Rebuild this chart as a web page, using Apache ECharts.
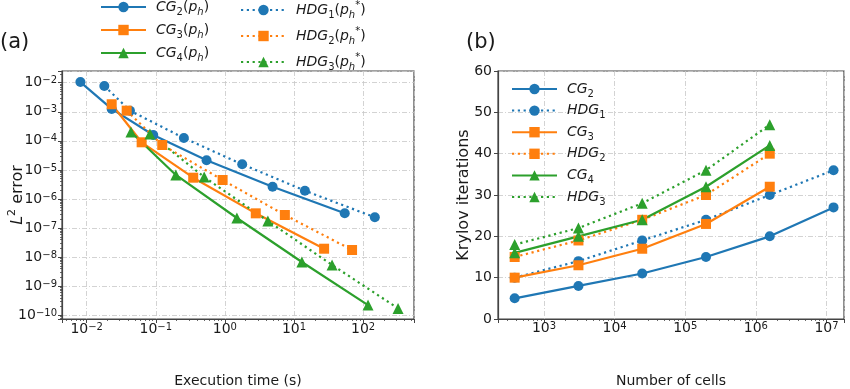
<!DOCTYPE html>
<html><head><meta charset="utf-8">
<script src="https://cdn.jsdelivr.net/npm/echarts@6/dist/echarts.min.js"></script>
<style>html,body{margin:0;padding:0;background:#fff}#c{width:850px;height:389px}</style>
</head><body><div id="c"></div>
<script>
// ---------- Panel (a): L2 error vs execution time ----------
const cg2Time  = [0.00811, 0.0230, 0.0918, 0.543, 4.90, 54.3];
const cg2Err   = [1.05e-2, 1.25e-3, 1.59e-4, 2.14e-5, 2.64e-6, 3.21e-7];
const hdg1Time = [0.0180, 0.0423, 0.255, 1.78, 14.4, 148];
const hdg1Err  = [7.7e-3, 1.09e-3, 1.25e-4, 1.56e-5, 1.93e-6, 2.34e-7];
const cg3Time  = [0.0230, 0.0624, 0.348, 2.80, 27.3];
const cg3Err   = [1.81e-3, 8.9e-5, 5.4e-6, 3.21e-7, 1.95e-8];
const hdg2Time = [0.0379, 0.124, 0.927, 7.38, 69.3];
const hdg2Err  = [1.09e-3, 7.2e-5, 4.5e-6, 2.81e-7, 1.76e-8];
const cg4Time  = [0.0437, 0.195, 1.49, 13.0, 118];
const cg4Err   = [2.01e-4, 6.7e-6, 2.22e-7, 6.8e-9, 2.25e-10];
const hdg3Time = [0.0822, 0.502, 4.19, 35.6, 321];
const hdg3Err  = [1.72e-4, 5.7e-6, 1.75e-7, 5.4e-9, 1.73e-10];

// ---------- Panel (b): Krylov iterations vs number of cells ----------
const cells    = [384, 3072, 24576, 196608, 1572864, 12582912];
const cg2Iter  = [5, 8, 11, 15, 20, 27];
const hdg1Iter = [10, 14, 19, 24, 30, 36];
const cg3Iter  = [10, 13, 17, 23, 32];
const hdg2Iter = [15, 19, 24, 30, 40];
const cg4Iter  = [16, 20, 24, 32, 42];
const hdg3Iter = [18, 22, 28, 36, 47];

const namesA = ['CG2(ph)', 'CG3(ph)', 'CG4(ph)', 'HDG1(ph*)', 'HDG2(ph*)', 'HDG3(ph*)'];
const namesB = ['CG2', 'HDG1', 'CG3', 'HDG2', 'CG4', 'HDG3'];

const BLUE = '#1f77b4', ORANGE = '#ff7f0e', GREEN = '#2ca02c';
const FONT = 'DejaVu Sans';
const TXT = '#1a1a1a';
const DOT = [2.2, 3.6];

const zip = (xs, ys) => xs.map((x, i) => [x, ys[i]]);

const richMath = {
  i:   {fontFamily: FONT, fontStyle: 'italic', fontSize: 14, lineHeight: 20, color: TXT},
  n:   {fontFamily: FONT, fontSize: 14, lineHeight: 20, color: TXT},
  sb:  {fontFamily: FONT, fontSize: 10, lineHeight: 12, verticalAlign: 'bottom', color: TXT},
  sbi: {fontFamily: FONT, fontStyle: 'italic', fontSize: 10, lineHeight: 12, verticalAlign: 'bottom', color: TXT},
  sp:  {fontFamily: FONT, fontSize: 10, lineHeight: 12, verticalAlign: 'top', color: TXT}
};
const richTitle = {
  i:  {fontFamily: FONT, fontStyle: 'italic', fontSize: 16, lineHeight: 22, color: TXT},
  n:  {fontFamily: FONT, fontSize: 16, lineHeight: 22, color: TXT},
  sp: {fontFamily: FONT, fontSize: 11, lineHeight: 13, verticalAlign: 'top', color: TXT}
};
const labelMath = {
  'CG2(ph)':  '{i|CG}{sb|2}{n|(}{i|p}{sbi|h}{n|)}',
  'CG3(ph)':  '{i|CG}{sb|3}{n|(}{i|p}{sbi|h}{n|)}',
  'CG4(ph)':  '{i|CG}{sb|4}{n|(}{i|p}{sbi|h}{n|)}',
  'HDG1(ph*)': '{i|HDG}{sb|1}{n|(}{i|p}{sbi|h}{sp|*}{n|)}',
  'HDG2(ph*)': '{i|HDG}{sb|2}{n|(}{i|p}{sbi|h}{sp|*}{n|)}',
  'HDG3(ph*)': '{i|HDG}{sb|3}{n|(}{i|p}{sbi|h}{sp|*}{n|)}',
  'CG2': '{i|CG}{sb|2}', 'CG3': '{i|CG}{sb|3}', 'CG4': '{i|CG}{sb|4}',
  'HDG1': '{i|HDG}{sb|1}', 'HDG2': '{i|HDG}{sb|2}', 'HDG3': '{i|HDG}{sb|3}'
};

function powLabel(v) {
  const e = Math.log10(v);
  const r = Math.round(e);
  if (Math.abs(e - r) > 1e-6) return '';
  const s = r < 0 ? '\u2212' + (-r) : String(r);
  return '{b|10}{s|' + s + '}';
}
// negative exponents: superscript sits high above the base
const powRichA = {
  b: {fontFamily: FONT, fontSize: 14, lineHeight: 14, padding: [8, 0, 0, 0], verticalAlign: 'bottom', color: TXT},
  s: {fontFamily: FONT, fontSize: 10, lineHeight: 12, verticalAlign: 'top', color: TXT}
};
const powRichB = {
  b: {fontFamily: FONT, fontSize: 14, lineHeight: 14, padding: [4, 0, 0, 0], verticalAlign: 'bottom', color: TXT},
  s: {fontFamily: FONT, fontSize: 10, lineHeight: 12, verticalAlign: 'top', color: TXT}
};

const SPINE = '#444';
const gridLine = {show: true, lineStyle: {color: '#c8c8c8', width: 0.8, type: [5, 2, 1, 2]}};

function logAxis(extra, rich, margin) {
  return Object.assign({
    type: 'log', logBase: 10, nameMoveOverlap: false,
    axisLine: {show: true, onZero: false, lineStyle: {color: SPINE, width: 1.2}},
    axisTick: {show: true, length: 4, inside: false, lineStyle: {color: SPINE, width: 1}},
    minorTick: {show: true, splitNumber: 9, length: 2, lineStyle: {color: SPINE, width: 0.8}},
    splitLine: gridLine,
    axisLabel: {formatter: powLabel, rich: rich, margin: margin}
  }, extra);
}

function ser(name, xs, ys, color, symbol, dotted, xi, yi) {
  return {
    name, type: 'line', xAxisIndex: xi, yAxisIndex: yi,
    data: zip(xs, ys),
    symbol, symbolSize: symbol === 'triangle' ? 11 : 10,
    showSymbol: true,
    lineStyle: {color, width: 2.2, type: dotted ? DOT : 'solid', cap: 'butt'},
    itemStyle: {color, borderWidth: 0},
    emphasis: {disabled: true},
    animation: false
  };
}

const legendBase = {
  orient: 'vertical', itemWidth: 45, itemHeight: 13, padding: 0,
  formatter: n => labelMath[n],
  textStyle: {rich: richMath, padding: [0, 0, 0, 5]},
  selectedMode: false
};

const gridBase = {show: true, borderColor: SPINE, borderWidth: 1.2, backgroundColor: 'transparent',
  containLabel: false, outerBoundsMode: 'none'};

const option = {
  animation: false,
  backgroundColor: '#fff',
  textStyle: {fontFamily: FONT, color: TXT},
  title: [
    {text: '(a)', left: 0, top: 32, padding: 0, textStyle: {fontFamily: FONT, fontSize: 21, fontWeight: 'normal', color: TXT}},
    {text: '(b)', left: 466, top: 32, padding: 0, textStyle: {fontFamily: FONT, fontSize: 21, fontWeight: 'normal', color: TXT}}
  ],
  legend: [
    Object.assign({}, legendBase, {data: namesA.slice(0, 3), left: 100, top: 0, itemGap: 6}),
    Object.assign({}, legendBase, {data: namesA.slice(3), left: 240, top: 0, itemGap: 6}),
    Object.assign({}, legendBase, {data: namesB, left: 511, top: 82, itemGap: 4.6})
  ],
  grid: [
    Object.assign({left: 62, top: 71, width: 352, height: 248}, gridBase),
    Object.assign({left: 498, top: 71, width: 346, height: 248}, gridBase)
  ],
  xAxis: [
    logAxis({gridIndex: 0, min: 4.39e-3, max: 546, splitNumber: 5,
      name: 'Execution time (s)', nameLocation: 'middle', nameGap: 55,
      nameTextStyle: {fontFamily: FONT, fontSize: 14, color: TXT}}, powRichA, 3),
    logAxis({gridIndex: 1, min: 223, max: 1.77e7, splitNumber: 5,
      name: 'Number of cells', nameLocation: 'middle', nameGap: 55,
      nameTextStyle: {fontFamily: FONT, fontSize: 14, color: TXT}}, powRichB, 2)
  ],
  yAxis: [
    logAxis({gridIndex: 0, min: 7.46e-11, max: 0.0252, splitNumber: 9,
      name: '{i|L}{sp|2}{n| error}', nameLocation: 'middle', nameGap: 33,
      nameTextStyle: {rich: richTitle}}, powRichA, 5),
    {type: 'value', gridIndex: 1, min: 0, max: 60, interval: 10, nameMoveOverlap: false,
      axisLine: {show: true, lineStyle: {color: SPINE, width: 1.2}},
      axisTick: {show: true, length: 4, lineStyle: {color: SPINE, width: 1}},
      splitLine: gridLine,
      axisLabel: {fontFamily: FONT, fontSize: 14, color: TXT, margin: 6},
      name: 'Krylov iterations', nameLocation: 'middle', nameGap: 26,
      nameTextStyle: {fontFamily: FONT, fontSize: 16, color: TXT}}
  ],
  series: [
    ser(namesA[0], cg2Time, cg2Err, BLUE, 'circle', false, 0, 0),
    ser(namesA[3], hdg1Time, hdg1Err, BLUE, 'circle', true, 0, 0),
    ser(namesA[1], cg3Time, cg3Err, ORANGE, 'rect', false, 0, 0),
    ser(namesA[4], hdg2Time, hdg2Err, ORANGE, 'rect', true, 0, 0),
    ser(namesA[2], cg4Time, cg4Err, GREEN, 'triangle', false, 0, 0),
    ser(namesA[5], hdg3Time, hdg3Err, GREEN, 'triangle', true, 0, 0),
    ser('CG2', cells, cg2Iter, BLUE, 'circle', false, 1, 1),
    ser('HDG1', cells, hdg1Iter, BLUE, 'circle', true, 1, 1),
    ser('CG3', cells.slice(0, 5), cg3Iter, ORANGE, 'rect', false, 1, 1),
    ser('HDG2', cells.slice(0, 5), hdg2Iter, ORANGE, 'rect', true, 1, 1),
    ser('CG4', cells.slice(0, 5), cg4Iter, GREEN, 'triangle', false, 1, 1),
    ser('HDG3', cells.slice(0, 5), hdg3Iter, GREEN, 'triangle', true, 1, 1)
  ]
};

const chart = echarts.init(document.getElementById('c'), null, {renderer: 'canvas'});
chart.setOption(option);
</script>
</body></html>
